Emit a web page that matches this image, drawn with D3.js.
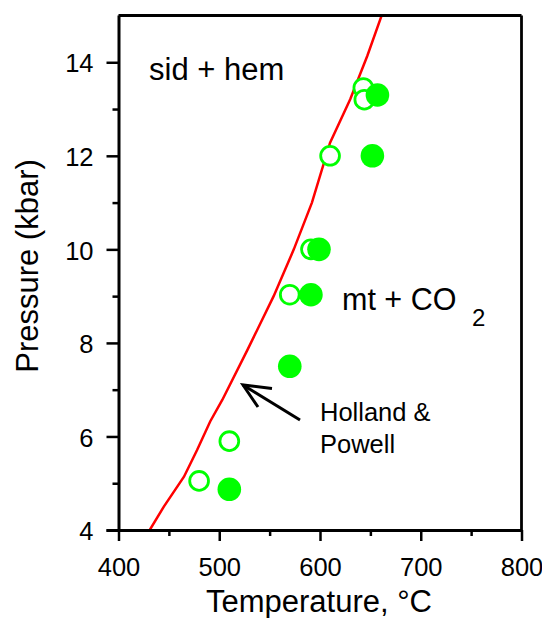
<!DOCTYPE html>
<html>
<head>
<meta charset="utf-8">
<script src="https://cdn.jsdelivr.net/npm/d3@7"></script>
<style>
html,body{margin:0;padding:0;background:#fff;}
svg text{font-family:"Liberation Sans",Arial,Helvetica,sans-serif;fill:#000;}
</style>
</head>
<body>
<svg id="chart" width="542" height="618"></svg>
<script>
// Data
const openT = [643, 644, 610, 591, 570, 510, 480];
const openP = [13.45, 13.2, 12.0, 10.0, 9.03, 5.9, 5.05];
const filledT = [657, 652, 599, 591, 570, 510];
const filledP = [13.3, 12.0, 10.0, 9.03, 7.5, 4.87];
const lineT = [431, 445, 465, 478, 491, 503, 528, 554, 574, 592, 610, 630, 647, 662];
const lineP = [4.0, 4.5, 5.14, 5.71, 6.32, 6.78, 7.85, 9.0, 10.0, 11.0, 12.28, 13.21, 14.14, 15.05];
const xTicks = [400, 500, 600, 700, 800];
const xMinor = [450, 550, 650, 750];
const yTicks = [4, 6, 8, 10, 12, 14];
const yMinor = [5, 7, 9, 11, 13];

const svg = d3.select("#chart");
const x = d3.scaleLinear().domain([400, 800]).range([118.5, 521.5]);
const y = d3.scaleLinear().domain([4, 15]).range([530, 15.5]);

const green = "#00ff00";

// clip
svg.append("clipPath").attr("id", "clip").append("rect")
  .attr("x", x(400)).attr("y", y(15)).attr("width", x(800) - x(400)).attr("height", y(4) - y(15));

// red line
const lineData = lineT.map((t, i) => [t, lineP[i]]);
svg.append("path").datum(lineData)
  .attr("clip-path", "url(#clip)")
  .attr("fill", "none").attr("stroke", "#ff0000").attr("stroke-width", 2.5)
  .attr("d", d3.line().x(d => x(d[0])).y(d => y(d[1])));

// open circles
svg.append("g").selectAll("circle").data(openT.map((t, i) => [t, openP[i]])).join("circle")
  .attr("cx", d => x(d[0])).attr("cy", d => y(d[1])).attr("r", 9.4)
  .attr("fill", "#fff").attr("stroke", green).attr("stroke-width", 2.8);

// filled circles
svg.append("g").selectAll("circle").data(filledT.map((t, i) => [t, filledP[i]])).join("circle")
  .attr("cx", d => x(d[0])).attr("cy", d => y(d[1])).attr("r", 11.8)
  .attr("fill", green);

// frame top and right
svg.append("line").attr("x1", x(400)).attr("x2", x(800)).attr("y1", y(15)).attr("y2", y(15))
  .attr("stroke", "#000").attr("stroke-width", 2.8);
svg.append("line").attr("x1", x(800)).attr("x2", x(800)).attr("y1", y(15)).attr("y2", y(4))
  .attr("stroke", "#000").attr("stroke-width", 2.8);

// axes
const xAxis = svg.append("g").attr("transform", `translate(0,${y(4)})`)
  .call(d3.axisBottom(x).tickValues(xTicks).tickSize(11).tickPadding(6).tickFormat(d3.format("d")));
svg.append("g").attr("transform", `translate(0,${y(4)})`)
  .call(d3.axisBottom(x).tickValues(xMinor).tickSize(6).tickFormat(""))
  .call(g => g.select(".domain").remove());
const yAxis = svg.append("g").attr("transform", `translate(${x(400)},0)`)
  .call(d3.axisLeft(y).tickValues(yTicks).tickSize(12).tickPadding(13).tickFormat(d3.format("d")));
svg.append("g").attr("transform", `translate(${x(400)},0)`)
  .call(d3.axisLeft(y).tickValues(yMinor).tickSize(6).tickFormat(""))
  .call(g => g.select(".domain").remove());

svg.selectAll(".domain").attr("stroke", "#000").attr("stroke-width", 3);
svg.selectAll(".tick line").attr("stroke", "#000").attr("stroke-width", 2.5);
xAxis.select(".domain").attr("d", `M${x(400)-12},0.5H${x(800)}`);
yAxis.select(".domain").attr("d", `M0.5,${y(4)}V${y(15)}`);
svg.selectAll(".tick text").attr("font-size", 25.5).attr("font-family", '"Liberation Sans",Arial,sans-serif').attr("fill", "#000");
xAxis.selectAll(".tick text").attr("y", 28).attr("dy", "0.71em");
yAxis.selectAll(".tick text").attr("dy", "0.38em");

// axis titles
svg.append("text").attr("x", 319).attr("y", 612)
  .attr("text-anchor", "middle").attr("font-size", 31).text("Temperature, °C");
svg.append("text").attr("transform", "translate(38,266) rotate(-90)")
  .attr("text-anchor", "middle").attr("font-size", 31).text("Pressure (kbar)");

// annotations
svg.append("text").attr("x", 149).attr("y", 80).attr("font-size", 31).text("sid + hem");
svg.append("text").attr("x", 342).attr("y", 310).attr("font-size", 30.5).text("mt + CO");
svg.append("text").attr("x", 472).attr("y", 326).attr("font-size", 24).text("2");
svg.append("text").attr("x", 320).attr("y", 421).attr("font-size", 25.5).text("Holland &");
svg.append("text").attr("x", 320).attr("y", 453).attr("font-size", 25.5).text("Powell");

// arrow
const tip = [243, 385], tail = [300, 420];
svg.append("line").attr("x1", tail[0]).attr("y1", tail[1]).attr("x2", tip[0]).attr("y2", tip[1])
  .attr("stroke", "#000").attr("stroke-width", 3);
svg.append("path").attr("d", `M272,388.5L${tip[0]},${tip[1]}L258,407`)
  .attr("fill", "none").attr("stroke", "#000").attr("stroke-width", 3);
</script>
</body>
</html>
